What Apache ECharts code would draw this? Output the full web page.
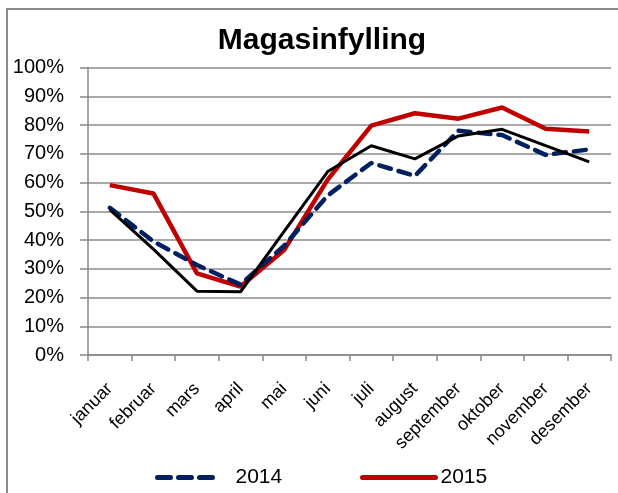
<!DOCTYPE html>
<html><head><meta charset="utf-8">
<script src="https://cdn.jsdelivr.net/npm/echarts@6/dist/echarts.min.js"></script>
<style>html,body{margin:0;padding:0;background:#fff}#c{width:618px;height:493px}</style>
</head><body><div id="c"></div>
<script>
const months = ['januar','februar','mars','april','mai','juni','juli','august','september','oktober','november','desember'];
const v2014 = [51.2, 39.5, 31.3, 24.5, 38, 55.5, 66.8, 62.3, 78, 76.5, 69.6, 71.5];
const v2015 = [59.1, 56.2, 28.4, 23.8, 36.5, 61, 79.8, 84.1, 82.2, 86.1, 78.7, 77.7];
const vAvg  = [50.6, 36.8, 22.2, 22.0, 43, 63.8, 72.8, 68.2, 76.2, 78.5, 72.8, 67.2];
const yTicks = [0, 10, 20, 30, 40, 50, 60, 70, 80, 90, 100];
const FONT = 'Liberation Sans';
const chart = echarts.init(document.getElementById('c'), null, {renderer: 'canvas'});
chart.setOption({
  animation: false,
  backgroundColor: '#fff',
  textStyle: {fontFamily: FONT},
  graphic: [
    {type: 'rect', shape: {x: 7, y: 9, width: 800, height: 700}, silent: true,
      style: {fill: 'none', stroke: '#8c8c8c', lineWidth: 2}},
    {type: 'text', x: 322, y: 41, silent: true,
      style: {text: 'Magasinfylling', fontFamily: FONT, fontSize: 30, fontWeight: 'bold',
        fill: '#000', align: 'center', verticalAlign: 'middle'}}
  ],
  grid: {left: 88, right: 7, top: 67.5, bottom: 138, containLabel: false},
  legend: [
    {data: ['2014'], left: 150, top: 462, itemWidth: 63, itemHeight: 14, itemGap: 0,
      itemStyle: {opacity: 0}, lineStyle: {width: 5, type: [13, 8], cap: 'round'},
      textStyle: {fontFamily: FONT, fontSize: 21, color: '#000', padding: [0, 0, 0, 10]}},
    {data: ['2015'], left: 355, top: 462, itemWidth: 73, itemHeight: 14, itemGap: 0,
      itemStyle: {opacity: 0}, lineStyle: {width: 5, cap: 'round'},
      textStyle: {fontFamily: FONT, fontSize: 21, color: '#000', padding: [0, 0, 0, 0]}}
  ],
  xAxis: {type: 'category', data: months, boundaryGap: true,
    axisLine: {lineStyle: {color: '#888', width: 1.5}},
    axisTick: {show: true, length: 6, lineStyle: {color: '#888', width: 1.5}},
    axisLabel: {rotate: 45, color: '#000', fontSize: 18, fontFamily: FONT, margin: 31, interval: 0}},
  yAxis: {type: 'value', min: 0, max: 100, interval: 10,
    axisLine: {show: true, lineStyle: {color: '#888', width: 1.5}},
    axisTick: {show: true, length: 8, lineStyle: {color: '#888', width: 1.5}},
    splitLine: {lineStyle: {color: '#8c8c8c', width: 1.5}},
    axisLabel: {color: '#000', fontSize: 20, fontFamily: FONT, margin: 24,
      formatter: v => yTicks.includes(v) ? v + '%' : ''}},
  series: [
    {name: '2014', type: 'line', data: v2014, symbol: 'none', z: 3,
      lineStyle: {color: '#002060', width: 4.5, type: [12, 8], cap: 'round'}, itemStyle: {color: '#002060'}},
    {name: '2015', type: 'line', data: v2015, symbol: 'none', z: 2,
      lineStyle: {color: '#c00000', width: 4.5}, itemStyle: {color: '#c00000'}},
    {name: 'avg', type: 'line', data: vAvg, symbol: 'none', z: 4,
      lineStyle: {color: '#000', width: 3}, itemStyle: {color: '#000'}}
  ]
});
</script></body></html>
